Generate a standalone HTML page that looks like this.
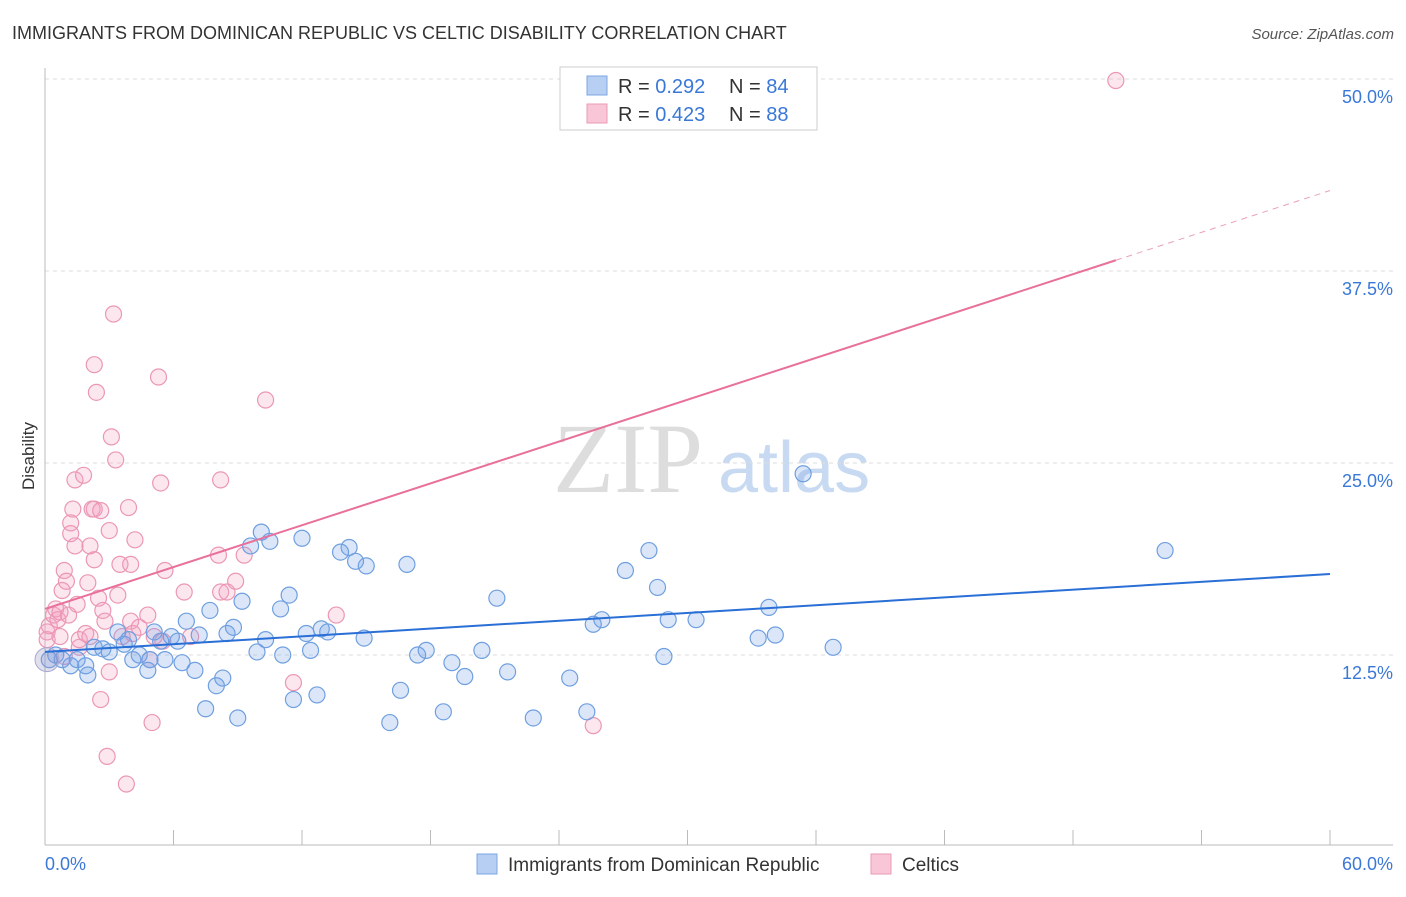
<!DOCTYPE html>
<html><head><meta charset="utf-8"><style>
body{margin:0;background:#fff;font-family:"Liberation Sans",sans-serif;}
svg text{font-family:"Liberation Sans",sans-serif;}
</style></head><body>
<svg id="chart" width="1406" height="892" xmlns="http://www.w3.org/2000/svg">
<text x="12" y="39" font-size="18" fill="#333">IMMIGRANTS FROM DOMINICAN REPUBLIC VS CELTIC DISABILITY CORRELATION CHART</text>
<text x="1394" y="39" font-size="15" fill="#555" text-anchor="end" font-style="italic">Source: ZipAtlas.com</text>
<text x="553" y="492" font-size="100" style="font-family:'Liberation Serif',serif" fill="#ddd">ZIP</text>
<text x="718" y="492" font-size="72" fill="#c8daf2">atlas</text>
<g id="grid"></g>
<line x1="45" y1="68" x2="45" y2="845" stroke="#bbb"/>
<line x1="45" y1="845" x2="1393" y2="845" stroke="#bbb"/>
<g id="xticks"></g>
<text transform="translate(34,456) rotate(-90)" font-size="17" fill="#333" text-anchor="middle">Disability</text>
<text x="45" y="870" font-size="18" fill="#3a78d8">0.0%</text>
<text x="1393" y="870" font-size="18" fill="#3a78d8" text-anchor="end">60.0%</text>
<g id="points"></g>
<g id="lines"></g>
<g>
<rect x="560" y="67" width="257" height="63" fill="#fff" stroke="#ccc"/>
<rect x="587" y="76" width="20" height="19" fill="#b6cff2" stroke="#7ea6e3"/>
<rect x="587" y="104" width="20" height="19" fill="#f8c6d6" stroke="#ea9ab5"/>
<text x="618" y="93" font-size="20" fill="#333">R = <tspan fill="#3a78d8">0.292</tspan></text>
<text x="729" y="93" font-size="20" fill="#333">N = <tspan fill="#3a78d8">84</tspan></text>
<text x="618" y="121" font-size="20" fill="#333">R = <tspan fill="#3a78d8">0.423</tspan></text>
<text x="729" y="121" font-size="20" fill="#333">N = <tspan fill="#3a78d8">88</tspan></text>
</g>
<g>
<rect x="477" y="854" width="20" height="20" fill="#b6cff2" stroke="#7ea6e3"/>
<text x="508" y="871" font-size="19" fill="#333">Immigrants from Dominican Republic</text>
<rect x="871" y="854" width="20" height="20" fill="#f8c6d6" stroke="#ea9ab5"/>
<text x="902" y="871" font-size="19" fill="#333">Celtics</text>
</g>
</svg>
<script>
const yTicks=[12.5,25,37.5,50];
const xTickVals=[0,6,12,18,24,30,36,42,48,54,60];
const blueX=[0.2,0.5,0.8,1.2,1.5,1.9,2.0,2.3,2.7,3.0,3.4,3.7,3.9,4.1,4.4,4.8,4.9,5.1,5.4,5.6,5.9,6.2,6.4,6.6,7.0,7.2,7.5,7.7,8.0,8.3,8.5,8.8,9.0,9.2,9.6,9.9,10.1,10.3,10.5,11.0,11.1,11.4,11.6,12.0,12.2,12.4,12.7,12.9,13.2,13.8,14.2,14.5,14.9,15.0,16.1,16.6,16.9,17.4,17.8,18.6,19.0,19.6,20.4,21.1,21.6,22.8,24.5,25.3,25.6,26.0,27.1,28.2,28.6,28.9,29.1,30.4,33.3,33.8,34.1,35.4,36.8,52.3];
const blueY=[12.2,12.5,12.2,11.8,12.2,11.8,11.2,13.0,12.9,12.7,14.0,13.2,13.5,12.2,12.5,11.5,12.2,14.0,13.4,12.2,13.7,13.4,12.0,14.7,11.5,13.8,9.0,15.4,10.5,11.0,13.9,14.3,8.4,16.0,19.6,12.7,20.5,13.5,19.9,15.5,12.5,16.4,9.6,20.1,13.9,12.8,9.9,14.2,14.0,19.2,19.5,18.6,13.6,18.3,8.1,10.2,18.4,12.5,12.8,8.8,12.0,11.1,12.8,16.2,11.4,8.4,11.0,8.8,14.5,14.8,18.0,19.3,16.9,12.4,14.8,14.8,13.6,15.6,13.8,24.3,13.0,19.3];
const pinkX=[0.1,0.1,0.2,0.4,0.5,0.6,0.7,0.8,0.9,1.0,1.1,1.2,1.2,1.3,1.4,1.4,1.5,1.6,1.6,1.8,1.9,2.0,2.1,2.2,2.3,2.3,2.4,2.5,2.6,2.6,2.7,2.8,2.9,3.0,3.0,3.1,3.2,3.3,3.4,3.5,3.6,3.8,3.9,4.0,4.0,4.1,4.2,4.4,4.8,4.9,5.0,5.1,5.3,5.4,5.5,5.6,6.5,6.8,8.1,8.2,8.2,8.5,8.9,9.3,10.3,11.6,13.6,25.6,50.0,2.1,2.3,0.7,0.9];
const pinkY=[13.5,14.0,14.4,15.1,15.5,14.8,15.3,16.7,18.0,17.3,15.1,21.1,20.4,22.0,19.6,23.9,15.8,13.0,13.5,24.2,13.9,17.2,19.6,22.0,22.0,31.4,29.6,16.2,9.6,21.9,15.4,14.7,5.9,11.4,20.6,26.7,34.7,25.2,16.4,18.4,13.7,4.1,22.1,14.7,18.4,13.9,20.0,14.3,15.1,12.2,8.1,13.7,30.6,23.7,13.4,18.0,16.6,13.7,19.0,16.6,23.9,16.6,17.3,19.0,29.1,10.7,15.1,7.9,49.9,13.7,18.7,13.7,12.4];
const blueLine=[12.7,17.77];
const pinkLine=[15.5,38.2];
const NS='http://www.w3.org/2000/svg';
function X(v){return 45+v*1285/60;}
function Y(v){return 847-v*15.36;}
function mk(tag,attrs,parent){const e=document.createElementNS(NS,tag);for(const k in attrs)e.setAttribute(k,attrs[k]);parent.appendChild(e);return e;}
const grid=document.getElementById('grid');
yTicks.forEach(t=>{
 const l=mk('line',{x1:45,x2:1393,y1:Y(t),y2:Y(t),stroke:'#ddd','stroke-dasharray':'4,4'},grid);
 
 
 const tx=mk('text',{x:1393,y:Y(t)+24,'font-size':18,fill:'#3a78d8','text-anchor':'end'},grid);
 tx.textContent=t.toFixed(1)+'%';
 
 
});
const xt=document.getElementById('xticks');
xTickVals.forEach(t=>{
 const l=mk('line',{x1:X(t),x2:X(t),y1:830,y2:845,stroke:'#bbb'},xt);
 
 
});
const pts=document.getElementById('points');
pinkX.forEach((x,i)=>{
 const c=mk('circle',{cx:X(x),cy:Y(pinkY[i]),r:8,fill:'rgba(244,160,190,0.25)',stroke:'#eb97b4','stroke-width':1.2},pts);
 
 
});
blueX.forEach((x,i)=>{
 const c=mk('circle',{cx:X(x),cy:Y(blueY[i]),r:8,fill:'rgba(110,160,230,0.25)',stroke:'#6f9fe0','stroke-width':1.2},pts);
 
 
});
const big=mk('circle',{cx:47,cy:Y(12.2),r:12,fill:'rgba(150,150,200,0.3)',stroke:'#a9a9d0'},pts);


const ln=document.getElementById('lines');
const bl=mk('line',{x1:X(0),y1:Y(blueLine[0]),x2:X(60),y2:Y(blueLine[1]),stroke:'#2a6fd6','stroke-width':2},ln);


const slope=(pinkLine[1]-pinkLine[0])/50;
const pl=mk('line',{x1:X(0),y1:Y(pinkLine[0]),x2:X(50),y2:Y(pinkLine[1]),stroke:'#e8709a','stroke-width':2},ln);


const pd=mk('line',{x1:X(50),y1:Y(pinkLine[1]),x2:X(60),y2:Y(pinkLine[0]+slope*60),stroke:'#eba0b8','stroke-width':1,'stroke-dasharray':'6,5'},ln);


</script>
</body></html>
